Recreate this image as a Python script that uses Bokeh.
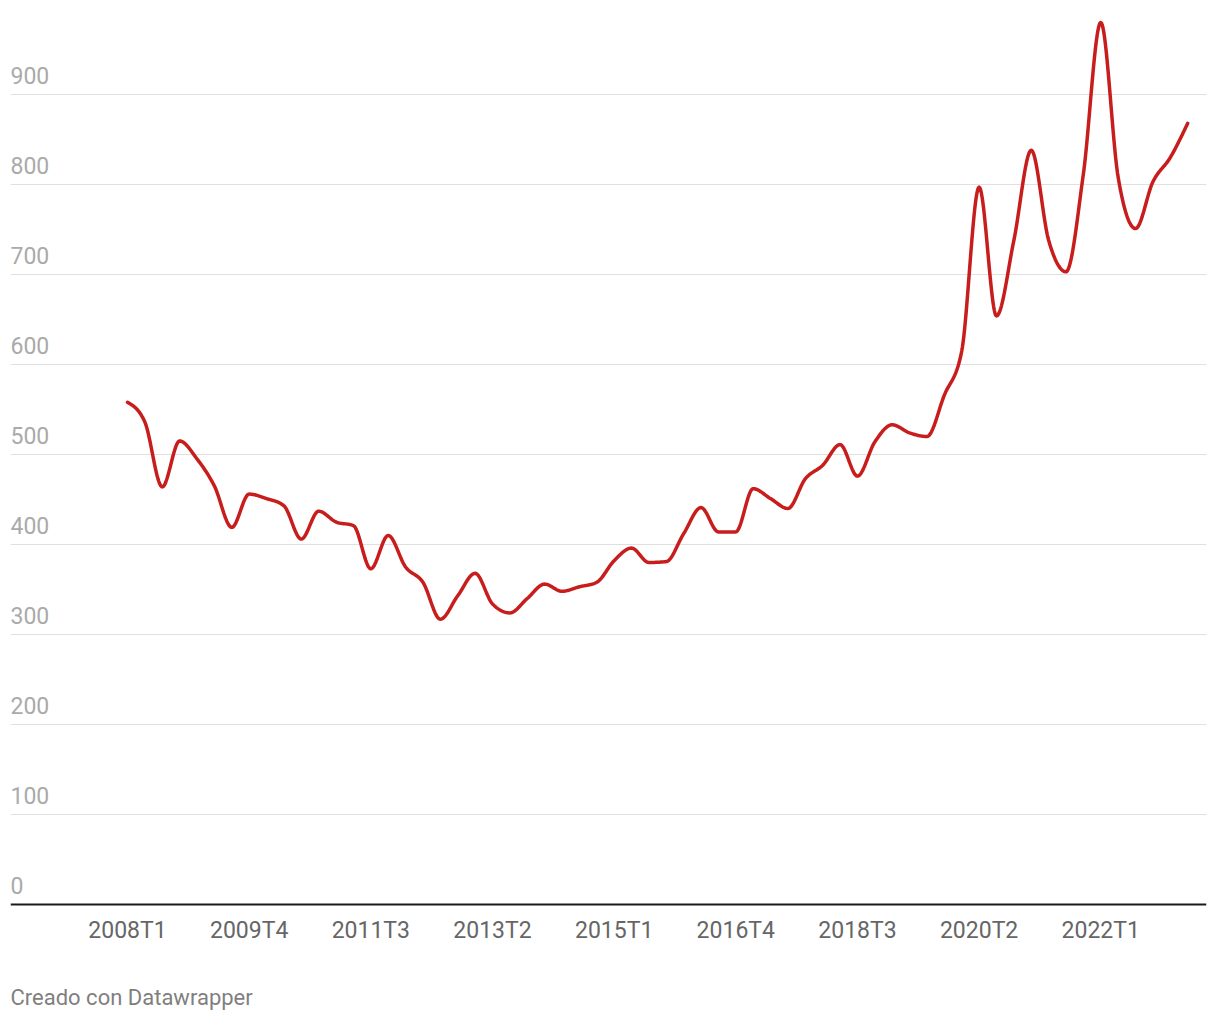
import numpy as np
from bokeh.plotting import figure
from bokeh.models import FixedTicker, Range1d, ColumnDataSource
from bokeh.core.properties import value
from bokeh.embed import file_html
from bokeh.resources import INLINE

# Quarterly categories 2008T1 .. 2023T2
quarters = [f"{y}T{q}" for y in range(2008, 2024) for q in range(1, 5)][:62]

values = [558, 536, 464, 515, 495, 465, 419, 456, 451, 443,
          406, 437, 425, 421, 373, 410, 375, 358, 317, 343,
          368, 334, 324, 340, 356, 348, 353, 358, 382, 396,
          380, 381, 412, 441, 414, 414, 462, 451, 440, 473,
          488, 511, 476, 514, 533, 524, 520, 566, 615, 797,
          654, 738, 838, 738, 703, 812, 980, 808, 751, 803,
          830, 868]

x_tick_labels = ["2008T1", "2009T4", "2011T3", "2013T2", "2015T1",
                 "2016T4", "2018T3", "2020T2", "2022T1"]
y_ticks = [0, 100, 200, 300, 400, 500, 600, 700, 800, 900]
footer_text = "Creado con Datawrapper"

LINE_COLOR = "#c71e1d"
FONT = "Roboto"

xi = np.arange(len(values), dtype=float)
yv = np.array(values, dtype=float)


def monotone_x(x, y, n=24):
    """d3.curveMonotoneX-style smoothing of the series for display."""
    m = len(x)
    h = np.diff(x)
    s = np.diff(y) / h
    t = np.zeros(m)
    for i in range(1, m - 1):
        s0, s1 = s[i - 1], s[i]
        p = (s0 * h[i] + s1 * h[i - 1]) / (h[i - 1] + h[i])
        t[i] = (np.sign(s0) + np.sign(s1)) * min(abs(s0), abs(s1), 0.5 * abs(p))
    t[0] = (3 * s[0] - t[1]) / 2
    t[-1] = (3 * s[-1] - t[-2]) / 2
    xs, ys = [], []
    for i in range(m - 1):
        u = np.linspace(0, 1, n, endpoint=(i == m - 2))
        h00 = 2 * u**3 - 3 * u**2 + 1
        h10 = u**3 - 2 * u**2 + u
        h01 = -2 * u**3 + 3 * u**2
        h11 = u**3 - u**2
        xs.append(x[i] + u * h[i])
        ys.append(h00 * y[i] + h10 * h[i] * t[i] + h01 * y[i + 1] + h11 * h[i] * t[i + 1])
    return np.concatenate(xs), np.concatenate(ys)


sx, sy = monotone_x(xi, yv)

W, H = 1220, 1020
left, right, top = 10, 14, 14
zero_px = 904            # pixel row of the zero line
px_per_unit = 0.9        # pixels per value unit
px_per_q = 17.38
x_start = -(127 - 10) / px_per_q
x_end = x_start + (W - left - right) / px_per_q
y_start = -(H - zero_px) / px_per_unit
y_end = (zero_px - top) / px_per_unit

p = figure(width=W, height=H, output_backend="svg", toolbar_location=None,
           x_range=Range1d(x_start, x_end), y_range=Range1d(y_start, y_end),
           min_border_left=left, min_border_right=right,
           min_border_top=top, min_border_bottom=0)
p.outline_line_color = None
p.background_fill_color = "white"
p.border_fill_color = "white"

p.yaxis.visible = False
p.xgrid.visible = False
p.ygrid.ticker = FixedTicker(ticks=y_ticks[1:])
p.ygrid.grid_line_color = "#e0e0e0"
p.ygrid.grid_line_width = 1

ax = p.xaxis[0]
ax.fixed_location = 0
tick_pos = [quarters.index(l) for l in x_tick_labels]
ax.ticker = FixedTicker(ticks=tick_pos)
ax.major_label_overrides = {i: l for i, l in zip(tick_pos, x_tick_labels)}
ax.axis_line_color = "#1a1a1a"
ax.axis_line_width = 2
ax.major_tick_line_color = None
ax.minor_tick_line_color = None
ax.major_label_text_font = FONT
ax.major_label_text_font_size = "23px"
ax.major_label_text_color = "#666666"
ax.major_label_standoff = 6

p.line(sx, sy, line_color=LINE_COLOR, line_width=3.5, line_join="round", line_cap="round")

ysrc = ColumnDataSource(dict(x=[x_start] * len(y_ticks), y=y_ticks,
                             t=[str(v) for v in y_ticks]))
p.text(x="x", y="y", text="t", source=ysrc, text_font=value(FONT),
       text_font_size="23px", text_color="#aaaaaa", text_align="left",
       text_baseline="alphabetic", y_offset=-19, x_offset=0)

p.text(x=[x_start], y=[0], text=[footer_text], text_font=value(FONT),
       text_font_size="22px", text_color="#7f7f7f", text_align="left",
       text_baseline="middle", y_offset=93)

open("out.html", "w").write(file_html(p, INLINE))
